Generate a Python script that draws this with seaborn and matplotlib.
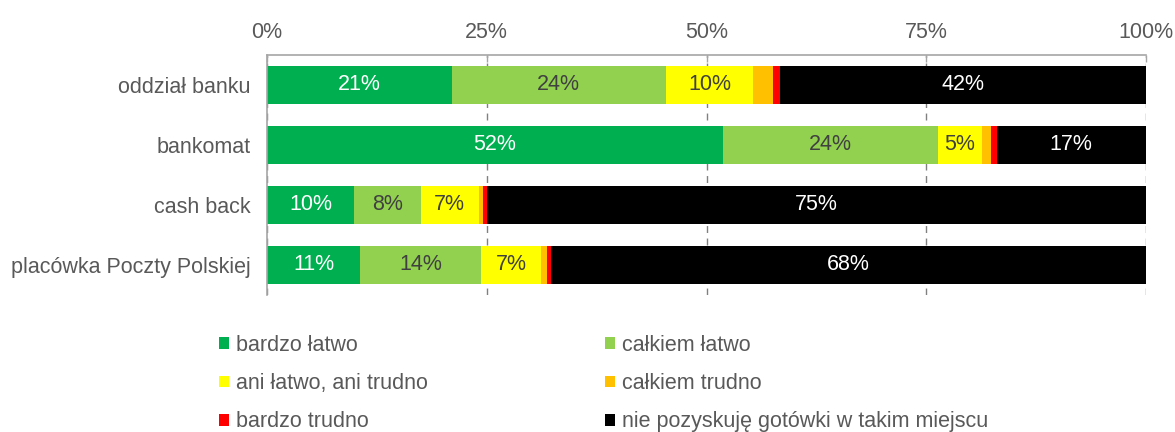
import pandas as pd
import seaborn as sns
import matplotlib
matplotlib.use("Agg")
import matplotlib.pyplot as plt
from matplotlib.patches import Patch
from matplotlib.ticker import FuncFormatter

# Survey data: how easy it is to get cash in each place (percent of respondents)
channels = ["oddział banku", "bankomat", "cash back", "placówka Poczty Polskiej"]
answers = [
    "bardzo łatwo",
    "całkiem łatwo",
    "ani łatwo, ani trudno",
    "całkiem trudno",
    "bardzo trudno",
    "nie pozyskuję gotówki w takim miejscu",
]
bardzo_latwo = [21.0, 51.9, 9.9, 10.6]
calkiem_latwo = [24.4, 24.4, 7.6, 13.7]
ani_latwo_ani_trudno = [9.9, 5.0, 6.6, 6.9]
calkiem_trudno = [2.3, 1.1, 0.5, 0.7]
bardzo_trudno = [0.8, 0.6, 0.4, 0.4]
nie_pozyskuje = [41.6, 17.0, 75.0, 67.7]
x_ticks = [0, 25, 50, 75, 100]

series = [bardzo_latwo, calkiem_latwo, ani_latwo_ani_trudno,
          calkiem_trudno, bardzo_trudno, nie_pozyskuje]
colors = ["#00B050", "#92D050", "#FFFF00", "#FFC000", "#FF0000", "#000000"]
text_colors = ["white", "#404040", "#404040", "#404040", "white", "white"]

rows = []
for ci, ch in enumerate(channels):
    total = 0.0
    for ai, ans in enumerate(answers):
        v = series[ai][ci]
        total += v
        rows.append({"channel": ch, "answer": ans, "value": v, "cum": total})
df = pd.DataFrame(rows)

sns.set_theme(style="white")
plt.rcParams["font.family"] = ["Liberation Sans", "DejaVu Sans"]
FS = 15.5

fig = plt.figure(figsize=(11.75, 4.32), dpi=100)
ax = fig.add_axes([267 / 1175, 1 - 295 / 432, 879 / 1175, 240 / 432])

# Stacked bars: draw cumulative totals from the outermost segment inwards
for ai in reversed(range(len(answers))):
    sub = df[df["answer"] == answers[ai]]
    sns.barplot(data=sub, x="cum", y="channel", order=channels, orient="h",
                color=colors[ai], saturation=1, width=0.64, errorbar=None,
                linewidth=0, ax=ax, zorder=2)

# Value labels in the middle of each wide enough segment
for _, r in df.iterrows():
    if r["value"] >= 3:
        ai = answers.index(r["answer"])
        y = channels.index(r["channel"])
        ax.text(r["cum"] - r["value"] / 2, y, f"{r['value']:.0f}%",
                ha="center", va="center", fontsize=FS,
                color=text_colors[ai], zorder=3)

ax.set_xlim(0, 100)
ax.set_ylim(3.5, -0.5)
ax.set_xticks(x_ticks)
ax.xaxis.set_major_formatter(FuncFormatter(lambda v, p: f"{v:.0f}%"))
ax.xaxis.tick_top()
ax.tick_params(axis="x", which="both", direction="in", length=5, width=1,
               color="#A6A6A6", labelcolor="#595959", labelsize=FS, pad=9,
               top=True, bottom=False)
ax.tick_params(axis="y", length=0, labelcolor="#595959", labelsize=FS, pad=12)
ax.set_xlabel("")
ax.set_ylabel("")

ax.grid(False)
ax.xaxis.grid(True, linestyle=(0, (5, 4)), color="#808080", linewidth=1, zorder=0)
ax.set_axisbelow(True)
for side in ["right", "bottom"]:
    ax.spines[side].set_visible(False)
for side in ["top", "left"]:
    ax.spines[side].set_color("#A6A6A6")
    ax.spines[side].set_linewidth(1.2)

# Legend in two columns
handles = [Patch(facecolor=c, edgecolor="none", label=a) for c, a in zip(colors, answers)]
legend_kw = dict(frameon=False, loc="upper left", fontsize=FS, handlelength=0.47,
                 handleheight=0.47, handletextpad=0.3, labelspacing=0.8,
                 borderpad=0, borderaxespad=0, labelcolor="#595959")
fig.legend(handles=handles[0::2], bbox_to_anchor=(219 / 1175, 1 - 335 / 432), **legend_kw)
fig.legend(handles=handles[1::2], bbox_to_anchor=(605 / 1175, 1 - 335 / 432), **legend_kw)

fig.savefig("out.png", dpi=100)
